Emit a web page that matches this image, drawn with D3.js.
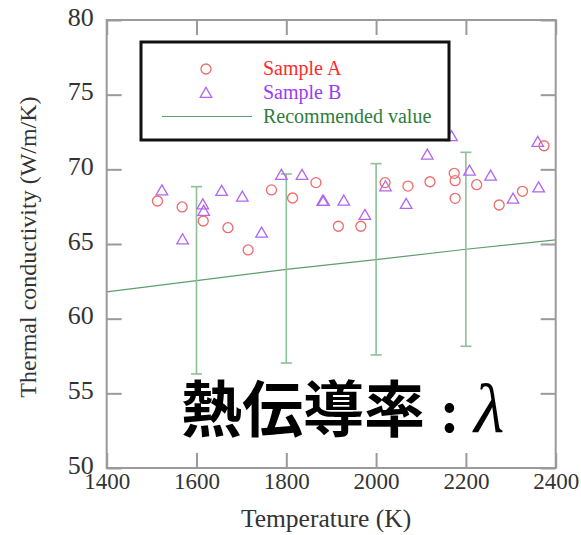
<!DOCTYPE html>
<html><head><meta charset="utf-8">
<script src="https://cdn.jsdelivr.net/npm/d3@7"></script>
<style>
html,body{margin:0;padding:0;background:#fff;}
svg{display:block;}
</style></head>
<body>
<script>
// ---- data ----
const sampleA_T = [1513,1568,1615,1670,1715,1767,1814,1866,1916,1966,2020,2071,2120,2174,2176,2176,2224,2274,2326,2374];
const sampleA_V = [67.88,67.48,66.54,66.09,64.60,68.62,68.08,69.11,66.19,66.19,69.11,68.88,69.17,69.73,69.24,68.06,68.97,67.61,68.53,71.58];
const sampleB_T = [1523,1569,1614,1616,1656,1702,1745,1789,1835,1881,1883,1928,1975,2021,2067,2114,2168,2208,2255,2305,2362,2360];
const sampleB_V = [68.57,65.29,67.63,67.19,68.53,68.15,65.74,69.60,69.60,67.86,67.86,67.88,66.92,68.84,67.66,70.96,72.2,69.89,69.55,68.01,68.77,71.81];
const recT = [1400,1600,1800,2000,2200,2400];
const recV = [61.8,62.55,63.3,63.95,64.65,65.27];
const errT = [1600,1800,2000,2200];
const errLow = [56.3,57.03,57.57,58.15];
const errHigh = [68.84,69.69,70.38,71.14];
const xTicks = [1400,1600,1800,2000,2200,2400];
const yTicks = [50,55,60,65,70,75,80];
const legendLabels = ["Sample A","Sample B","Recommended value"];
const xTitle = "Temperature (K)";
const yTitle = "Thermal conductivity (W/m/K)";
const bigTitle = "熱伝導率";

// ---- layout ----
const W = 581, H = 535;
const L = 106.7, R = 555.7, T = 20, B = 468;
const serif = "'Liberation Serif','Times New Roman',serif";
const axisCol = "#9a9a9a", textCol = "#333";
const colA = "#f06a6a", colB = "#b266f2", colLine = "#5f9e6e", colErr = "#8fbf98";

const svg = d3.select("body").append("svg").attr("width", W).attr("height", H);
const x = d3.scaleLinear().domain([1400,2400]).range([L,R]);
const y = d3.scaleLinear().domain([50,80]).range([B,T]);

// recommended line
svg.append("path")
  .datum(recT.map((t,i)=>[t,recV[i]]))
  .attr("fill","none").attr("stroke",colLine).attr("stroke-width",1.2)
  .attr("d", d3.line().x(d=>x(d[0])).y(d=>y(d[1])));

// error bars
const eb = svg.append("g").attr("stroke",colErr).attr("stroke-width",1.6);
errT.forEach((t,i)=>{
  eb.append("line").attr("x1",x(t)).attr("x2",x(t)).attr("y1",y(errLow[i])).attr("y2",y(errHigh[i]));
  [errLow[i],errHigh[i]].forEach(v=>{
    eb.append("line").attr("x1",x(t)-5.5).attr("x2",x(t)+5.5).attr("y1",y(v)).attr("y2",y(v));
  });
});

// points
const tri = d3.symbol().type(d3.symbolTriangle).size(58);
svg.append("g").selectAll("path").data(sampleB_T.map((t,i)=>[t,sampleB_V[i]])).join("path")
  .attr("d", tri).attr("transform", d=>`translate(${x(d[0])},${y(d[1])+0.8})`)
  .attr("fill","none").attr("stroke",colB).attr("stroke-width",1.3);
svg.append("g").selectAll("circle").data(sampleA_T.map((t,i)=>[t,sampleA_V[i]])).join("circle")
  .attr("cx", d=>x(d[0])).attr("cy", d=>y(d[1])).attr("r",5)
  .attr("fill","none").attr("stroke",colA).attr("stroke-width",1.3);

// axes
function styleAxis(g){
  g.select(".domain").remove();
  g.selectAll(".tick line").attr("stroke",axisCol).attr("stroke-width",2);
  g.selectAll(".tick text").attr("fill",textCol).attr("font-family",serif);
}
svg.append("g").attr("transform",`translate(0,${B})`)
  .call(d3.axisBottom(x).tickValues(xTicks).tickSize(-15).tickPadding(8).tickFormat(d3.format("d")))
  .call(styleAxis).call(g=>g.selectAll(".tick text").attr("font-size",23).attr("dy","0.75em").attr("y",4));
svg.append("g").attr("transform",`translate(0,${T})`)
  .call(d3.axisTop(x).tickValues(xTicks).tickSize(-15).tickFormat(""))
  .call(styleAxis);
svg.append("g").attr("transform",`translate(${L},0)`)
  .call(d3.axisLeft(y).tickValues(yTicks).tickSize(-15).tickPadding(13).tickFormat(d3.format("d")))
  .call(styleAxis).call(g=>g.selectAll(".tick text").attr("font-size",26).attr("dy","0.2em"));
svg.append("g").attr("transform",`translate(${R},0)`)
  .call(d3.axisRight(y).tickValues(yTicks).tickSize(-15).tickFormat(""))
  .call(styleAxis);

// frame
svg.append("rect").attr("x",L).attr("y",T).attr("width",R-L).attr("height",B-T)
  .attr("fill","none").attr("stroke",axisCol).attr("stroke-width",2);

// axis titles
svg.append("text").attr("x",326).attr("y",527).attr("text-anchor","middle")
  .attr("font-family",serif).attr("font-size",25.5).attr("fill",textCol).text(xTitle);
svg.append("text").attr("transform",`translate(36,247) rotate(-90)`).attr("text-anchor","middle")
  .attr("font-family",serif).attr("font-size",24).attr("fill",textCol).text(yTitle);

// legend
const lg = svg.append("g");
lg.append("rect").attr("x",141).attr("y",42).attr("width",308).attr("height",98)
  .attr("fill","#fff").attr("stroke","#111").attr("stroke-width",3);
lg.append("circle").attr("cx",206).attr("cy",69).attr("r",5).attr("fill","none").attr("stroke",colA).attr("stroke-width",1.3);
lg.append("path").attr("d",tri).attr("transform","translate(206,94)").attr("fill","none").attr("stroke",colB).attr("stroke-width",1.3);
lg.append("line").attr("x1",162).attr("x2",252).attr("y1",116.5).attr("y2",116.5).attr("stroke",colLine).attr("stroke-width",1.2);
const legCols = ["#ff2a2a","#9b3cf5","#2e7d3a"];
legendLabels.forEach((s,i)=>{
  lg.append("text").attr("x",263).attr("y",75+i*24).attr("font-family",serif).attr("font-size",20)
    .attr("fill",legCols[i]).text(s);
});

// big overlay title
const bt = svg.append("text").attr("x",181).attr("y",432).attr("fill","#000");
bt.append("tspan").attr("font-family","'Noto Sans CJK JP',sans-serif").attr("font-weight",700).attr("font-size",61).text(bigTitle);
bt.append("tspan").attr("font-family","'Noto Sans CJK JP',sans-serif").attr("font-weight",700).attr("font-size",52).attr("dx",16).text(":");
bt.append("tspan").attr("font-family",serif).attr("font-style","italic").attr("font-size",70).attr("dx",16).text("λ");
</script>
</body></html>
